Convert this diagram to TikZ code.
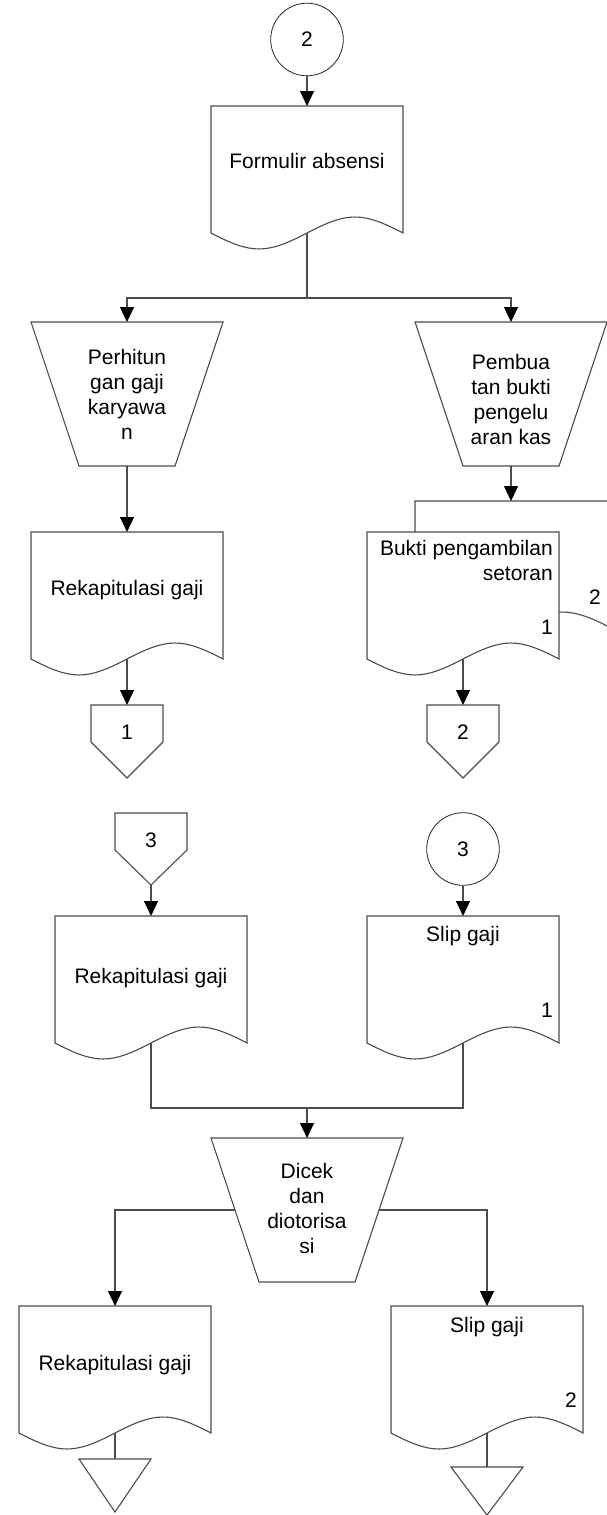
\documentclass[tikz,border=0pt]{standalone}
\usepackage{fontspec}
\setmainfont{Liberation Sans}
\usetikzlibrary{arrows.meta}
\begin{document}
\begin{tikzpicture}[x=1pt,y=-1pt,
  ln/.style={draw=black!70, line width=1.1pt},
  arr/.style={ln, -{Triangle[length=15pt,width=14pt,color=black,fill=black]}},
  box/.style={inner sep=0pt, outer sep=0pt, draw=none},
  doc/.style={box, minimum width=192pt, minimum height=127pt, anchor=north west},
  trap/.style={box, minimum width=192pt, minimum height=144pt, anchor=north west},
  offpg/.style={box, minimum width=72pt, anchor=north west},
  endtri/.style={box, minimum width=72pt, anchor=north west},
  txt/.style={font=\fontsize{21}{25}\selectfont, inner sep=0pt, text=black},
  circ/.style={circle, draw=black!85, line width=0.8pt, fill=white, minimum size=72.6pt, inner sep=0pt, font=\fontsize{21}{25}\selectfont}
]
\useasboundingbox (0,0) rectangle (606,1515);
\fill[white] (0,0) rectangle (606,1515);

% ---------- placement nodes ----------
\node[circ] (c2) at (307,39.5) {2};
\node[doc] (form) at (211,106) {};
\node[trap] (trapL) at (31,322) {};
\node[trap] (trapR) at (415,322) {};
\node[doc] (rekA) at (31,532) {};
\node[doc, minimum width=196pt] (back) at (415,501) {};
\node[doc] (bukti) at (367,532) {};
\node[offpg, minimum height=73pt] (off1) at (91,705) {};
\node[offpg, minimum height=73pt] (off2) at (427,705) {};
\node[offpg, minimum height=72pt] (off3) at (115,813) {};
\node[circ] (c3) at (463,849) {3};
\node[doc] (rekB) at (55,916) {};
\node[doc] (slip1) at (367,916) {};
\node[trap] (dicek) at (211,1138) {};
\node[doc] (rekC) at (19,1306) {};
\node[doc] (slip2) at (391,1306) {};
\node[endtri, minimum height=53pt] (triL) at (79,1459) {};
\node[endtri, minimum height=48pt] (triR) at (451,1467) {};

% ---------- shape outlines ----------
\foreach \n in {form,rekA,back,bukti,rekB,slip1,rekC,slip2}{
  \draw[ln, fill=white] (\n.south west) -- (\n.north west) -- (\n.north east) -- (\n.south east)
    .. controls +(-40.7,-21.3) and +(40.7,-21.3) .. (\n.south)
    .. controls +(-40.7,21.3) and +(40.7,21.3) .. (\n.south west) -- cycle;
}
\foreach \n in {trapL,trapR,dicek}{
  \draw[ln, fill=white] (\n.north west) -- (\n.north east) -- ([xshift=-48pt]\n.south east)
    -- ([xshift=48pt]\n.south west) -- cycle;
}
\foreach \n in {off1,off2,off3}{
  \draw[ln, fill=white] (\n.north west) -- (\n.north east) -- ([yshift=-37pt]\n.north east)
    -- (\n.south) -- ([yshift=-37pt]\n.north west) -- cycle;
}
\foreach \n in {triL,triR}{
  \draw[ln, fill=white] (\n.north west) -- (\n.north east) -- (\n.south) -- cycle;
}

% ---------- connectors ----------
\coordinate (split) at (307,298);
\coordinate (merge) at (307,1108);
\draw[arr] (c2.south) -- (form.north);
\draw[ln] (form.south) -- (split);
\draw[arr] (split) -| (trapL.north);
\draw[arr] (split) -| (trapR.north);
\draw[arr] (trapL.south) -- (rekA.north);
\draw[arr] (trapR.south) -- (trapR.south |- back.north);
\draw[arr] (rekA.south) -- (off1.north);
\draw[arr] (bukti.south) -- (off2.north);
\draw[arr] (off3.south) -- (rekB.north);
\draw[arr] (c3.south) -- (slip1.north);
\draw[ln] (rekB.south) |- (merge) -| (slip1.south);
\draw[arr] (merge) -- (dicek.north);
\draw[arr] ([xshift=24pt]dicek.west) -| (rekC.north);
\draw[arr] ([xshift=-24pt]dicek.east) -| (slip2.north);
\draw[ln] (rekC.south) -- (triL.north);
\draw[ln] (slip2.south) -- (triR.north);

% ---------- texts ----------
\node[txt, anchor=base] at ([yshift=-62pt]form.north) {Formulir absensi};
\node[txt, anchor=north, align=center] at ([yshift=-27.5pt]trapL.north) {Perhitun\\gan gaji\\karyawa\\n};
\node[txt, anchor=north, align=center] at ([yshift=-32.5pt]trapR.north) {Pembua\\tan bukti\\pengelu\\aran kas};
\node[txt, anchor=base] at ([yshift=-63pt]rekA.north) {Rekapitulasi gaji};
\node[txt, anchor=north east, align=right] at ([xshift=-6pt,yshift=-8pt]bukti.north east) {Bukti pengambilan\\setoran};
\node[txt, anchor=base east] at ([xshift=-6pt,yshift=-102pt]bukti.north east) {1};
\node[txt, anchor=base east] at ([xshift=42pt,yshift=-72pt]bukti.north east) {2};
\node[txt] at ([yshift=-27pt]off1.north) {1};
\node[txt] at ([yshift=-27pt]off2.north) {2};
\node[txt] at ([yshift=-27pt]off3.north) {3};
\node[txt, anchor=base] at ([yshift=-67pt]rekB.north) {Rekapitulasi gaji};
\node[txt, anchor=base] at ([yshift=-25.5pt]slip1.north) {Slip gaji};
\node[txt, anchor=base east] at ([xshift=-6pt,yshift=-101pt]slip1.north east) {1};
\node[txt, anchor=north, align=center] at ([yshift=-25.5pt]dicek.north) {Dicek\\dan\\diotorisa\\si};
\node[txt, anchor=base] at ([yshift=-64pt]rekC.north) {Rekapitulasi gaji};
\node[txt, anchor=base] at ([yshift=-26pt]slip2.north) {Slip gaji};
\node[txt, anchor=base east] at ([xshift=-6pt,yshift=-101pt]slip2.north east) {2};
\end{tikzpicture}
\end{document}
